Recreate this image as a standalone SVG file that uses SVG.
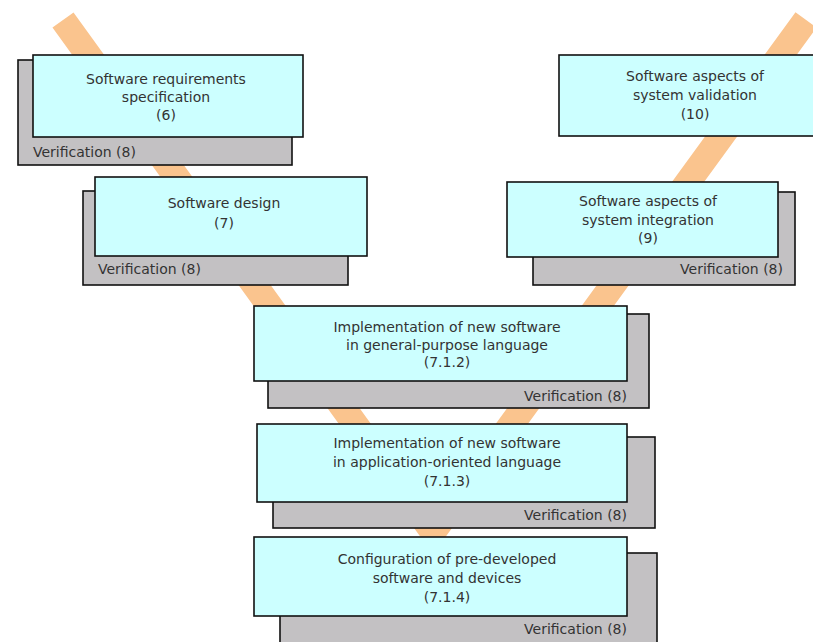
<svg xmlns="http://www.w3.org/2000/svg" width="813" height="642" viewBox="0 0 813 642">
  <style>
    .band { fill: none; stroke: #FAC48E; stroke-width: 26; stroke-linejoin: miter; stroke-linecap: butt; }
    .shadow { fill: #C3C1C3; stroke: #111; stroke-width: 1.6; }
    .box { fill: #CCFFFF; stroke: #111; stroke-width: 1.6; }
    text { font-family: "DejaVu Sans", "Liberation Sans", sans-serif; font-size: 14px; fill: #333; }
    .c { text-anchor: middle; }
    .r { text-anchor: end; }
  </style>
  <rect width="813" height="642" fill="#ffffff"/>

  <g id="connectors">
    <polyline class="band" points="63,20 433,532 806,20"/>
  </g>

  <g id="node-6">
    <rect class="shadow" x="18" y="60" width="274" height="105"/>
    <rect class="box" x="33" y="55" width="270" height="82"/>
    <text class="c" x="166" y="84">Software requirements</text>
    <text class="c" x="166" y="102">specification</text>
    <text class="c" x="166" y="120">(6)</text>
    <text x="33" y="157">Verification (8)</text>
  </g>

  <g id="node-10">
    <rect class="box" x="559" y="55" width="270" height="81"/>
    <text class="c" x="695" y="81">Software aspects of</text>
    <text class="c" x="695" y="100">system validation</text>
    <text class="c" x="695" y="119">(10)</text>
  </g>

  <g id="node-7">
    <rect class="shadow" x="83" y="191" width="265" height="94"/>
    <rect class="box" x="95" y="177" width="272" height="79"/>
    <text class="c" x="224" y="208">Software design</text>
    <text class="c" x="224" y="228">(7)</text>
    <text x="98" y="274">Verification (8)</text>
  </g>

  <g id="node-9">
    <rect class="shadow" x="533" y="192" width="262" height="93"/>
    <rect class="box" x="507" y="182" width="271" height="75"/>
    <text class="c" x="648" y="206">Software aspects of</text>
    <text class="c" x="648" y="225">system integration</text>
    <text class="c" x="648" y="243">(9)</text>
    <text class="r" x="783" y="274">Verification (8)</text>
  </g>

  <g id="node-712">
    <rect class="shadow" x="268" y="314" width="381" height="94"/>
    <rect class="box" x="254" y="306" width="373" height="75"/>
    <text class="c" x="447" y="332">Implementation of new software</text>
    <text class="c" x="447" y="350">in general-purpose language</text>
    <text class="c" x="447" y="367">(7.1.2)</text>
    <text class="r" x="627" y="401">Verification (8)</text>
  </g>

  <g id="node-713">
    <rect class="shadow" x="273" y="437" width="382" height="91"/>
    <rect class="box" x="257" y="424" width="370" height="78"/>
    <text class="c" x="447" y="448">Implementation of new software</text>
    <text class="c" x="447" y="467">in application-oriented language</text>
    <text class="c" x="447" y="486">(7.1.3)</text>
    <text class="r" x="627" y="520">Verification (8)</text>
  </g>

  <g id="node-714">
    <rect class="shadow" x="280" y="553" width="377" height="100"/>
    <rect class="box" x="254" y="537" width="373" height="79"/>
    <text class="c" x="447" y="564">Configuration of pre-developed</text>
    <text class="c" x="447" y="583">software and devices</text>
    <text class="c" x="447" y="602">(7.1.4)</text>
    <text class="r" x="627" y="634">Verification (8)</text>
  </g>
</svg>
